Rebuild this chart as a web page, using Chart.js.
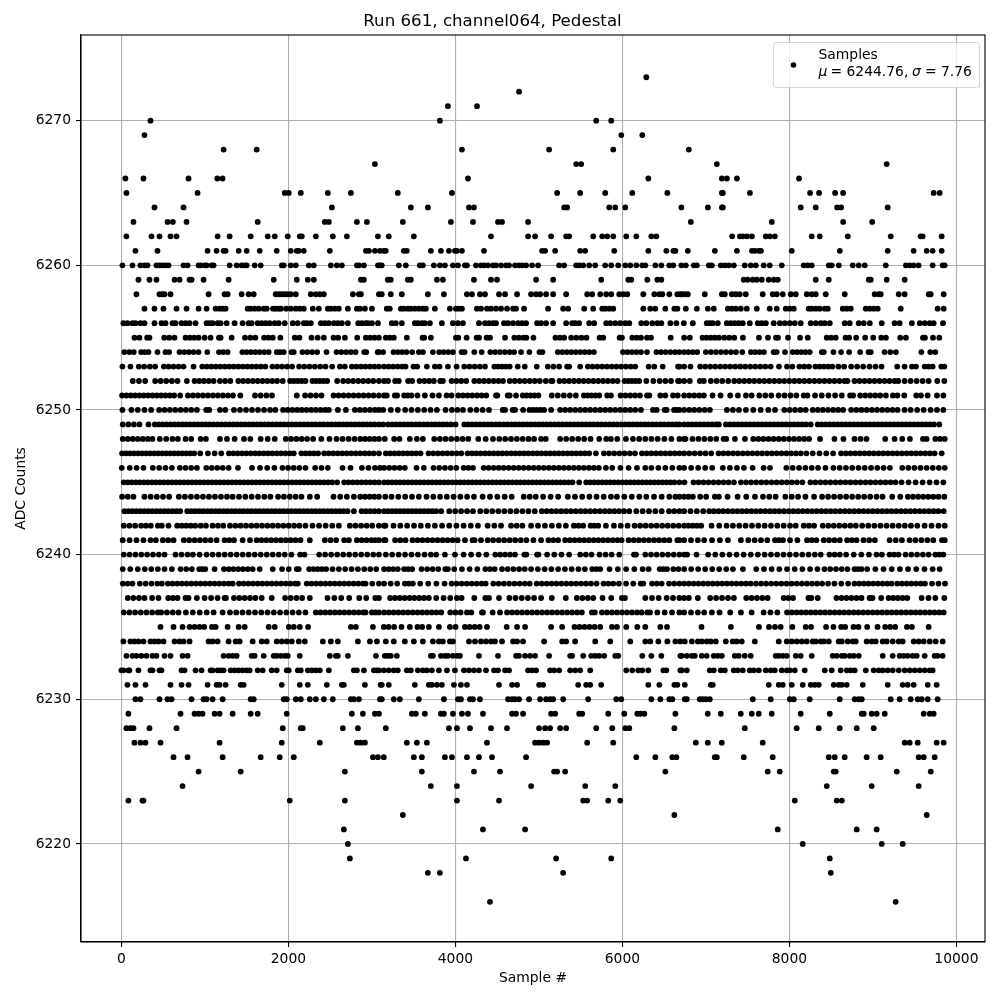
<!DOCTYPE html>
<html>
<head>
<meta charset="utf-8">
<style>
  html, body { margin: 0; padding: 0; background: #fff; }
  #wrap { position: absolute; left: 0; top: 0; width: 1000px; height: 1000px; }
</style>
<script src="https://cdn.jsdelivr.net/npm/chart.js@4"></script>
</head>
<body>
<div id="wrap"><canvas id="chart" width="1000" height="1000"></canvas></div>
<script>
// sample numbers per ADC level
const adc6273 = [6286];
const adc6272 = [4762];
const adc6271 = [3910,4258];
const adc6270 = [348,3814,5686,5866];
const adc6269 = [276,5986,6238];
const adc6268 = [1224,1620,4078,5122,5890,6795];
const adc6267 = [3036,5446,5506,7131,9165];
const adc6266 = [48,264,804,1148,1212,4150,6310,7191,7251,7371,8115];
const adc6265 = [60,912,1956,2004,2148,2472,2748,3310,3958,5218,5494,5794,6118,6538,7191,7203,7527,8247,8355,8547,8643,9727,9799];
const adc6264 = [396,744,2520,3466,3670,4162,4222,5302,5338,5842,5914,6034,6706,7023,7191,7203,8135,8315,8571,8619,9177];
const adc6263 = [144,552,616,780,1632,2436,2484,2820,2940,3370,3946,4210,4510,4558,4870,6819,7789,8643,8991];
const adc6262 = [60,360,456,588,660,1152,1296,1548,1752,1836,1992,2136,2160,2328,2532,2700,3072,3202,3502,4426,4870,4954,5146,5326,5362,5650,5758,5818,5890,6046,6166,6346,6406,7315,7407,7441,7491,7551,7717,7765,7825,8267,8363,8699,9213,9571,9595,9823];
const adc6261 = [168,432,1032,1140,1224,1248,1404,1500,1656,1860,2028,2100,2124,2184,2496,2928,2964,3036,3096,3142,3166,3382,3418,3706,3826,3922,3994,4018,4078,4342,5038,5074,5194,5494,5554,5902,6310,6526,6610,6634,6783,7107,7371,7551,7587,7635,7659,8028,8603,9177,9487,9643,9715,9823];
const adc6260 = [12,132,228,276,312,420,456,492,528,564,744,792,924,948,996,1020,1080,1104,1296,1380,1440,1476,1500,1596,1668,1920,1944,2028,2088,2244,2304,2508,2580,2640,2820,2844,2904,3072,3096,3118,3322,3406,3574,3610,3742,3814,3874,3970,4030,4114,4138,4246,4306,4342,4390,4450,4486,4546,4606,4642,4714,4762,4798,4846,4918,4990,5242,5302,5446,5482,5530,5602,5674,5794,5866,5950,6034,6094,6166,6238,6274,6394,6466,6562,6610,6706,6759,6855,6891,7035,7071,7179,7226,7274,7334,7465,7537,7597,7692,7764,7908,8171,8219,8267,8471,8507,8591,8758,8830,8902,9153,9394,9440,9487,9547,9715,9835,9859];
const adc6259 = [204,336,420,636,696,816,840,984,1284,1824,2100,2232,2304,2868,2904,3190,3226,3430,3466,3778,3850,4222,4426,4498,4966,5170,5746,6070,6106,6298,6418,6466,7453,7500,7561,7609,7669,7752,7812,7860,8315,8471,8950,8974,9165,9380];
const adc6258 = [180,456,492,516,588,1044,1236,1272,1440,1524,1584,1848,1884,1920,1956,1992,2028,2088,2268,2328,2376,2424,2772,2844,2868,3084,3118,3226,3358,3670,3862,4138,4198,4294,4354,4522,4594,4738,4906,4966,5014,5086,5170,5326,5578,5638,5734,5806,5866,5962,6010,6058,6250,6382,6442,6478,6562,6658,6694,6711,6747,6783,6986,7191,7226,7310,7357,7405,7477,7680,7800,7848,7920,8016,8076,8208,8267,8315,8435,8662,9021,9069,9093,9309,9380,9668,9692,9847];
const adc6257 = [276,396,504,660,780,924,1020,1128,1176,1212,1248,1512,1548,1596,1644,1704,1740,1816,1848,1884,1908,1972,2028,2088,2136,2184,2292,2364,2472,2508,2556,2604,2712,2820,2856,2916,3000,3178,3214,3346,3382,3430,3466,3514,3562,3610,3646,3754,3934,4006,4042,4078,4258,4306,4378,4426,4486,4546,4618,4690,4726,4822,5110,5290,5350,5542,5650,5758,5794,5842,5890,6250,6334,6394,6514,6622,6658,6759,6891,7023,7094,7262,7310,7357,7417,7489,7609,7764,7848,7956,8004,8052,8231,8267,8315,8363,8423,8459,8639,8687,8735,8914,8962,9010,9057,9333,9775,9847];
const adc6256 = [24,72,132,168,228,276,396,480,528,612,648,720,768,816,888,1020,1056,1092,1152,1188,1260,1356,1452,1524,1560,1632,1680,1728,1776,1836,1884,1956,2052,2112,2184,2220,2268,2388,2436,2484,2544,2592,2640,2712,2836,2880,2928,2952,3000,3072,3238,3286,3358,3514,3550,3598,3634,3694,3838,3970,4030,4090,4282,4354,4402,4450,4486,4582,4630,4690,4750,4798,4846,4978,5026,5086,5170,5326,5398,5434,5482,5602,5662,5806,5854,5914,5974,6034,6082,6226,6286,6358,6418,6466,6574,6646,6735,6843,7010,7046,7082,7142,7250,7298,7345,7393,7441,7525,7621,7669,7717,7812,7884,7944,8004,8064,8135,8255,8315,8375,8423,8483,8662,8722,8830,8890,8962,9105,9260,9320,9466,9560,9620,9680,9727,9839];
const adc6255 = [156,216,308,336,512,572,636,768,820,872,924,996,1068,1168,1188,1320,1480,1544,1604,1708,1760,1812,1904,2076,2132,2276,2350,2424,2540,2596,2676,2824,2928,2980,3032,3084,3166,3214,3262,3418,3606,3626,3706,4006,4034,4134,4254,4282,4374,4414,4594,4706,4760,4814,4850,4934,5198,5250,5302,5386,5448,5510,5570,5726,5770,5966,5994,6118,6170,6222,6294,6342,6578,6739,6807,6959,7008,7057,7106,7155,7219,7279,7339,7443,7635,7743,7839,7863,7983,8127,8219,8447,8500,8555,8671,8715,8799,8907,9003,9099,9155,9327,9395,9599,9623,9719,9795];
const adc6254 = [36,96,148,236,280,324,432,528,572,696,752,808,864,924,1028,1168,1220,1272,1448,1500,1552,1604,1656,1710,1764,1860,1900,1944,2036,2064,2168,2226,2284,2344,2456,2576,2634,2692,2748,2804,2908,2932,3068,3084,3134,3258,3310,3362,3414,3482,3562,3610,3730,3806,3860,3914,3970,4074,4110,4226,4314,4418,4476,4534,4592,4650,4702,4786,4886,5006,5042,5226,5280,5334,5388,5442,5496,5550,5604,5658,6006,6060,6114,6168,6222,6294,6406,6462,6518,6574,6630,6682,6739,6790,6842,6895,6999,7060,7120,7180,7240,7300,7360,7435,7539,7590,7642,7695,7811,7847,7947,8039,8090,8141,8192,8243,8387,8411,8527,8619,8715,8847,8947,8975,9139,9207,9275,9579,9687,9747];
const adc6253 = [12,108,208,272,340,404,508,566,624,684,744,864,968,1022,1076,1130,1184,1238,1292,1346,1400,1454,1508,1562,1616,1670,1724,1808,1866,1924,1984,2044,2128,2190,2252,2316,2380,2444,2524,2616,2676,2760,2814,2868,2922,2976,3030,3084,3146,3200,3254,3308,3362,3402,3498,3542,3658,3754,3810,3910,4014,4106,4168,4230,4292,4354,4466,4512,4558,4604,4650,4746,4830,4974,5106,5174,5242,5338,5362,5494,5586,5643,5700,5757,5814,5871,5928,5985,6042,6099,6154,6314,6382,6482,6666,6682,6739,6815,6931,6991,7051,7111,7171,7231,7291,7351,7411,7471,7531,7591,7651,7711,7775,7875,7971,8035,8119,8177,8235,8311,8362,8413,8464,8515,8587,8655,8739,8811,8883,8959,9031,9103,9291,9379,9467,9515,9619,9667,9715,9819,9855];
const adc6252 = [136,210,284,404,470,536,604,672,784,876,932,988,1046,1104,1180,1242,1304,1400,1458,1516,1574,1632,1690,1748,1806,1864,1932,2020,2066,2112,2158,2204,2288,2332,2376,2420,2464,2584,2656,2716,2776,2836,2896,2956,3016,3084,3146,3194,3278,3322,3434,3482,3570,3628,3686,3742,3818,3850,3954,4012,4070,4130,4226,4284,4342,4400,4458,4516,4570,4650,4710,4770,4830,4890,4950,5010,5082,5146,5162,5246,5304,5362,5420,5478,5536,5594,5652,5710,5768,5826,5884,5942,6026,6070,6114,6158,6202,6286,6370,6446,6514,6582,6666,6682,6739,6807,6927,6975,7059,7127,7195,7267,7339,7399,7459,7519,7579,7639,7699,7759,7819,7879,7939,7999,8059,8119,8179,8239,8299,8359,8419,8479,8539,8599,8659,8695,8779,8839,8899,8959,9019,9079,9139,9199,9259,9303,9379,9451,9523,9595,9667,9771,9855];
const adc6251 = [8,60,112,164,216,268,320,372,424,476,528,580,632,704,796,856,916,976,1036,1096,1156,1216,1276,1336,1424,1600,1668,1736,1804,2100,2200,2265,2330,2396,2540,2600,2660,2720,2780,2840,2900,2960,3020,3084,3146,3178,3274,3302,3386,3430,3474,3546,3634,3726,3802,3894,3954,4034,4090,4146,4202,4258,4314,4370,4486,4502,4626,4650,4726,4806,4853,4900,4947,4994,5154,5226,5298,5370,5442,5538,5584,5630,5676,5722,5818,5862,5978,6036,6094,6152,6210,6294,6322,6454,6514,6606,6662,6739,6800,6860,6920,6975,7079,7175,7291,7383,7479,7547,7639,7711,7783,7871,7942,8013,8083,8171,8215,8307,8387,8467,8547,8627,8727,8763,8847,8907,8967,9027,9087,9155,9239,9293,9375,9519,9575,9655,9767,9843];
const adc6250 = [12,120,196,276,356,452,516,580,644,708,772,836,904,1016,1052,1180,1244,1348,1420,1492,1564,1636,1708,1780,1844,1936,1992,2048,2104,2160,2216,2272,2328,2384,2440,2484,2592,2688,2796,2856,2916,2976,3036,3084,3134,3226,3310,3398,3474,3550,3626,3702,3778,3882,3958,4024,4090,4178,4252,4326,4402,4566,4594,4686,4714,4810,4886,4930,4974,5018,5062,5146,5254,5314,5374,5434,5494,5554,5614,5674,5734,5794,5854,5914,5974,6034,6094,6154,6222,6366,6410,6506,6530,6618,6650,6682,6739,6800,6860,6920,6985,7047,7251,7323,7395,7479,7567,7655,7747,7827,7939,8003,8067,8131,8195,8279,8340,8401,8462,8523,8584,8643,8739,8801,8863,8925,8987,9049,9111,9173,9235,9295,9379,9451,9529,9607,9691,9767,9843];
const adc6249 = [16,84,150,216,324,400,448,494,540,588,634,682,728,776,822,870,916,964,1010,1058,1104,1152,1198,1246,1292,1340,1386,1434,1480,1528,1574,1622,1668,1716,1762,1810,1856,1904,1950,1998,2044,2092,2138,2186,2232,2280,2326,2374,2420,2468,2514,2562,2608,2656,2702,2750,2796,2844,2890,2938,2984,3032,3084,3134,3194,3242,3288,3336,3382,3430,3476,3524,3570,3618,3664,3712,3758,3806,3852,3900,3946,4002,4106,4152,4200,4246,4294,4340,4388,4434,4482,4528,4576,4622,4670,4716,4764,4810,4858,4904,4952,4998,5046,5092,5140,5186,5234,5280,5328,5374,5422,5468,5516,5562,5610,5656,5704,5750,5798,5844,5892,5938,5986,6032,6080,6126,6174,6220,6268,6314,6362,6408,6456,6502,6550,6596,6644,6682,6739,6786,6834,6882,6930,6978,7026,7074,7122,7155,7239,7287,7335,7383,7431,7479,7527,7575,7623,7671,7719,7767,7815,7863,7911,7959,8007,8055,8103,8151,8199,8255,8339,8387,8435,8483,8531,8579,8627,8675,8723,8771,8819,8867,8915,8963,9011,9059,9107,9155,9203,9251,9299,9347,9395,9443,9491,9539,9587,9635,9683,9731,9795];
const adc6248 = [16,76,136,196,256,316,372,460,536,612,676,768,836,948,1012,1180,1264,1356,1468,1544,1668,1752,1836,1968,2032,2096,2160,2224,2296,2394,2492,2576,2648,2720,2792,2860,2916,2972,3028,3084,3154,3266,3330,3454,3538,3610,3746,3814,3882,3950,4018,4086,4154,4274,4362,4450,4526,4596,4666,4736,4806,4876,4942,5026,5082,5254,5326,5398,5470,5542,5618,5722,5806,5862,5938,6042,6126,6200,6274,6348,6422,6502,6586,6682,6739,6755,6839,6910,6981,7052,7123,7211,7243,7347,7467,7567,7628,7689,7750,7811,7872,7933,7994,8055,8116,8177,8235,8367,8539,8647,8779,8851,8923,9147,9259,9351,9443,9599,9643,9747,9803,9860];
const adc6247 = [8,56,104,152,200,248,296,344,392,440,488,536,584,632,680,728,776,824,872,944,1036,1116,1196,1288,1340,1392,1444,1496,1548,1600,1652,1704,1756,1808,1860,1912,1964,2016,2064,2156,2206,2256,2306,2356,2428,2482,2536,2590,2644,2698,2752,2806,2860,2914,2968,3022,3084,3166,3218,3270,3322,3374,3426,3478,3530,3582,3678,3734,3790,3846,3902,3958,4014,4070,4146,4198,4250,4302,4354,4406,4458,4510,4562,4614,4666,4718,4770,4822,4874,4926,4978,5030,5082,5134,5186,5238,5290,5342,5394,5446,5498,5550,5602,5682,5778,5840,5902,5964,6026,6088,6150,6234,6290,6346,6402,6458,6514,6570,6626,6682,6739,6800,6865,6930,6995,7063,7151,7209,7267,7325,7383,7441,7499,7557,7615,7673,7731,7789,7847,7905,7963,8021,8079,8137,8203,8279,8360,8441,8523,8619,8675,8731,8787,8843,8899,8955,9011,9067,9123,9179,9235,9291,9347,9403,9459,9515,9571,9627,9683,9739,9823];
const adc6246 = [4,100,182,264,376,452,528,604,700,768,836,904,1016,1082,1148,1214,1284,1396,1564,1660,1746,1832,1928,1996,2064,2132,2204,2320,2396,2472,2648,2744,2880,2958,3036,3096,3146,3208,3270,3332,3394,3534,3622,3738,3806,3874,3942,4010,4098,4154,4210,4338,4398,4458,4518,4578,4638,4698,4758,4818,4878,4938,4998,5058,5118,5178,5238,5298,5358,5418,5478,5538,5598,5658,5718,5802,5878,5976,6074,6174,6274,6346,6430,6514,6598,6682,6739,6823,6907,6991,7075,7203,7287,7371,7455,7559,7691,7767,7963,8039,8115,8191,8267,8343,8431,8527,8602,8677,8752,8827,8902,8977,9052,9127,9203,9351,9424,9497,9570,9643,9716,9789,9860];
const adc6245 = [28,76,124,172,220,268,316,364,412,460,508,556,604,652,700,748,796,844,892,940,988,1036,1084,1132,1180,1228,1276,1324,1372,1420,1468,1516,1564,1612,1660,1708,1756,1804,1852,1900,1948,1996,2044,2092,2140,2188,2236,2284,2332,2380,2428,2476,2524,2584,2668,2720,2772,2824,2876,2928,2980,3032,3084,3146,3194,3242,3290,3338,3386,3434,3482,3530,3578,3626,3674,3722,3770,3818,3866,3914,3962,4010,4058,4106,4154,4202,4250,4298,4346,4394,4442,4490,4538,4586,4634,4682,4730,4778,4826,4874,4922,4970,5018,5066,5114,5162,5210,5258,5306,5354,5402,5482,5566,5614,5662,5710,5758,5806,5854,5902,5950,5998,6046,6094,6142,6190,6238,6286,6334,6382,6430,6478,6526,6574,6622,6682,6743,6851,6911,6971,7031,7091,7151,7211,7271,7335,7419,7480,7541,7602,7663,7724,7785,7846,7907,7968,8029,8090,8155,8251,8311,8371,8431,8491,8551,8611,8671,8731,8791,8851,8911,8971,9031,9091,9151,9211,9271,9343,9427,9511,9595,9679,9761,9843];
const adc6244 = [8,76,144,276,350,424,498,572,688,760,832,904,976,1048,1120,1192,1264,1332,1408,1484,1560,1636,1712,1784,1876,1946,2016,2086,2156,2256,2344,2540,2620,2700,2784,2860,2916,2972,3028,3084,3160,3234,3316,3398,3480,3562,3654,3735,3816,3897,3978,4059,4140,4222,4326,4414,4502,4590,4674,4818,4890,4962,5050,5140,5230,5346,5432,5518,5604,5690,5776,5862,5934,6023,6112,6202,6286,6378,6470,6562,6634,6682,6739,6791,6843,6931,7003,7107,7155,7259,7379,7483,7587,7683,7759,7835,7951,8027,8103,8191,8295,8391,8463,8535,8607,8679,8751,8823,8895,8967,9043,9115,9231,9327,9419,9480,9541,9602,9663,9724,9785,9855];
const adc6243 = [36,84,132,180,228,276,324,372,420,468,516,564,612,660,704,788,836,884,932,980,1028,1076,1124,1172,1220,1268,1316,1364,1412,1460,1508,1556,1604,1652,1700,1748,1796,1844,1892,1940,1988,2036,2084,2132,2180,2228,2276,2324,2372,2420,2468,2516,2564,2612,2660,2708,2784,2876,2928,2980,3032,3084,3146,3194,3242,3290,3338,3386,3434,3482,3530,3578,3626,3674,3722,3770,3830,3926,3997,4068,4139,4210,4298,4370,4442,4514,4586,4658,4730,4802,4874,4950,5034,5092,5150,5208,5266,5324,5382,5440,5498,5556,5614,5672,5730,5788,5846,5904,5962,6020,6082,6166,6242,6318,6394,6470,6558,6620,6682,6739,6815,6891,6967,7039,7095,7151,7207,7263,7319,7375,7431,7487,7543,7599,7655,7711,7767,7823,7879,7935,7991,8047,8103,8159,8215,8271,8327,8383,8439,8495,8551,8607,8663,8719,8775,8831,8887,8943,8999,9055,9111,9167,9223,9279,9335,9391,9447,9503,9559,9615,9671,9727,9783,9847];
const adc6242 = [28,96,164,236,294,352,436,484,564,668,722,776,830,884,950,1012,1092,1156,1220,1300,1364,1428,1492,1556,1620,1684,1748,1812,1876,1940,2004,2068,2132,2204,2288,2367,2446,2525,2604,2736,2803,2870,2937,3004,3084,3146,3162,3258,3340,3422,3504,3586,3670,3754,3840,3926,4012,4098,4184,4270,4386,4466,4546,4666,4734,4802,4906,4989,5072,5155,5238,5322,5418,5474,5530,5618,5664,5710,5802,5898,5980,6062,6146,6212,6278,6344,6410,6476,6542,6608,6674,6739,6790,6841,6892,6943,7067,7159,7247,7323,7399,7475,7551,7627,7703,7779,7855,7931,8007,8075,8171,8233,8295,8399,8465,8531,8597,8663,8729,8795,8871,8944,9017,9090,9163,9236,9309,9382,9455,9531,9619,9702,9785,9860];
const adc6241 = [16,98,180,264,348,412,496,560,624,748,812,876,940,1004,1068,1140,1236,1292,1348,1452,1540,1620,1678,1736,1794,1852,1910,1968,2026,2084,2144,2256,2436,2504,2572,2668,2724,2820,2878,2936,2994,3040,3084,3146,3162,3278,3340,3402,3486,3546,3606,3666,3726,3786,3846,3906,3966,4026,4114,4206,4230,4306,4386,4452,4518,4584,4650,4716,4782,4850,4934,5026,5114,5172,5230,5314,5371,5428,5485,5542,5599,5656,5713,5770,5827,5884,5941,5990,6074,6135,6196,6257,6318,6379,6440,6501,6562,6658,6682,6739,6821,6903,6979,7073,7167,7263,7419,7507,7583,7659,7735,7827,7875,7923,8007,8095,8211,8267,8323,8411,8475,8539,8603,8691,8747,8803,8887,8955,9023,9199,9273,9347,9439,9510,9581,9652,9723,9827,9860];
const adc6240 = [28,98,168,238,308,378,448,516,648,720,792,856,936,1020,1092,1164,1236,1308,1380,1452,1524,1596,1668,1740,1812,1884,1956,2036,2140,2192,2368,2440,2512,2584,2656,2728,2800,2872,2944,3016,3084,3166,3243,3320,3397,3474,3551,3630,3706,3770,3874,3994,4098,4188,4278,4370,4478,4537,4596,4655,4714,4826,4850,4978,4994,5098,5184,5270,5362,5494,5562,5630,5726,5798,5870,5962,6138,6162,6274,6342,6410,6478,6546,6614,6682,6739,6775,6887,7027,7112,7197,7282,7367,7452,7537,7622,7703,7779,7854,7929,8004,8079,8154,8229,8304,8375,8479,8541,8603,8679,8770,8861,8952,9043,9107,9199,9253,9307,9391,9460,9529,9598,9667,9747,9795,9843];
const adc6239 = [16,106,196,280,358,436,516,604,708,776,844,932,968,1004,1116,1228,1285,1342,1399,1456,1514,1572,1656,1812,1924,2004,2100,2124,2248,2299,2350,2401,2452,2528,2604,2680,2756,2832,2908,2980,3052,3146,3200,3255,3310,3386,3434,3482,3594,3661,3727,3794,3878,3910,3986,4078,4170,4262,4358,4414,4470,4558,4626,4694,4762,4830,4906,4987,5068,5149,5230,5311,5392,5473,5550,5638,5686,5734,5846,5945,6044,6143,6242,6314,6446,6490,6534,6610,6670,6739,6823,6907,6991,7075,7159,7243,7323,7443,7603,7695,7787,7879,7971,8063,8155,8247,8335,8419,8488,8557,8626,8695,8779,8821,8863,8931,9029,9127,9225,9323,9421,9519,9617,9715,9799];
const adc6238 = [16,74,132,220,290,360,430,484,556,612,668,724,780,836,892,948,1004,1060,1116,1172,1228,1284,1332,1408,1464,1520,1576,1632,1688,1744,1800,1856,1912,1968,2024,2080,2112,2220,2276,2332,2388,2444,2500,2556,2612,2668,2724,2780,2836,2892,2924,3004,3084,3146,3224,3302,3394,3442,3490,3578,3674,3772,3870,3954,4014,4074,4134,4194,4254,4314,4362,4454,4517,4580,4643,4706,4769,4832,4890,4974,5033,5092,5151,5210,5269,5328,5387,5446,5505,5564,5623,5690,5774,5832,5890,5958,6044,6130,6218,6250,6354,6412,6470,6558,6620,6682,6739,6796,6853,6910,6967,7024,7081,7138,7195,7252,7309,7366,7423,7480,7535,7599,7660,7721,7782,7843,7904,7965,8026,8087,8148,8209,8270,8331,8392,8463,8539,8621,8703,8779,8835,8891,8947,9003,9059,9115,9171,9223,9291,9347,9403,9459,9515,9571,9623,9707,9785,9863];
const adc6237 = [76,142,210,276,368,444,560,616,672,768,804,904,996,1074,1152,1236,1252,1348,1412,1476,1540,1604,1680,1800,1960,2028,2096,2164,2256,2468,2550,2632,2728,2848,2932,3040,3084,3218,3276,3334,3392,3450,3508,3566,3624,3682,3770,3858,3938,4018,4074,4226,4358,4402,4522,4646,4720,4794,4868,4942,5026,5154,5322,5454,5520,5586,5650,5762,5866,5994,6030,6274,6354,6434,6530,6606,6682,6739,6795,6903,7051,7122,7193,7264,7335,7483,7547,7611,7675,7739,7931,7987,8043,8227,8263,8339,8563,8623,8683,8743,8803,8863,8959,8995,9099,9187,9243,9299,9355,9411,9583,9665,9747,9855];
const adc6236 = [28,96,164,232,300,368,436,476,545,615,684,772,855,938,1021,1104,1212,1300,1375,1450,1525,1600,1675,1750,1825,1900,1975,2050,2125,2204,2328,2385,2442,2499,2556,2613,2670,2727,2784,2841,2898,2924,3000,3042,3084,3146,3203,3260,3317,3374,3431,3488,3545,3602,3659,3716,3773,3830,3938,4000,4062,4138,4190,4318,4330,4446,4534,4618,4678,4738,4798,4858,4918,4978,5038,5098,5158,5218,5278,5338,5398,5458,5514,5634,5670,5754,5814,5874,5934,5994,6054,6114,6174,6230,6298,6330,6418,6506,6594,6682,6739,6821,6903,6979,7071,7163,7291,7419,7547,7691,7773,7855,7971,8028,8085,8142,8199,8256,8313,8370,8427,8484,8541,8598,8655,8712,8769,8826,8883,8940,8997,9054,9111,9168,9225,9282,9339,9396,9453,9510,9567,9624,9681,9738,9795,9847];
const adc6235 = [468,624,732,816,876,936,992,1084,1128,1272,1404,1476,1764,1836,2004,2064,2136,2236,2748,2808,3012,3142,3200,3266,3354,3454,3546,3602,3682,3802,3934,4002,4114,4170,4230,4290,4378,4614,4738,4834,5146,5278,5426,5486,5546,5606,5666,5734,5874,5934,6046,6178,6274,6454,6534,6947,7299,7635,7755,7827,7895,8035,8195,8259,8439,8527,8619,8667,8767,8827,8931,9055,9147,9207,9267,9407,9467,9667];
const adc6234 = [24,108,156,204,264,348,396,444,504,636,696,744,816,1044,1092,1152,1284,1368,1416,1572,1680,1740,1860,1920,1980,2040,2124,2196,2412,2508,2592,2832,2976,3060,3166,3262,3394,3502,3610,3730,3802,3850,3934,3970,4162,4234,4306,4366,4426,4474,4558,4690,4738,4810,5062,5278,5326,5434,5674,5854,6094,6274,6334,6430,6538,6634,6694,6747,6831,6903,6950,7010,7058,7118,7238,7321,7369,7429,7585,7872,7968,8028,8088,8148,8207,8279,8315,8375,8411,8471,8590,8627,8698,8758,8794,8925,8985,9033,9117,9165,9237,9309,9356,9488,9548,9608,9680,9751,9835];
const adc6233 = [60,132,180,240,300,372,420,516,588,732,792,1224,1284,1332,1380,1560,1596,1704,1824,1860,1908,1956,1992,2136,2496,2568,2592,2712,3048,3154,3190,3226,3298,3706,3730,3826,3874,3910,3970,4018,4054,4282,4510,4726,4762,4834,4894,4954,5122,5374,5398,5530,5626,5674,5722,5782,5914,5950,6238,6346,6466,6694,6711,6771,6831,6867,6950,7010,7094,7142,7190,7345,7393,7465,7537,7836,7872,7920,7968,8076,8135,8267,8518,8566,8627,8662,8722,8770,8830,9117,9237,9320,9368,9416,9476,9524,9620,9739,9775,9835];
const adc6232 = [0,24,84,96,204,348,372,456,480,720,756,888,960,1068,1092,1152,1188,1224,1308,1356,1404,1452,1500,1536,1632,1692,1800,1860,1980,2004,2112,2148,2232,2280,2328,2376,2484,2784,2820,2904,3024,3060,3084,3142,3202,3262,3310,3418,3466,3550,3610,3658,3718,3802,3898,3994,4102,4162,4222,4282,4366,4462,4510,4594,4642,4870,4918,4966,5134,5182,5242,5374,5434,5494,5614,6046,6118,6190,6238,6310,6490,6526,6694,6711,6771,7046,7094,7178,7226,7333,7381,7441,7525,7573,7633,7717,7776,7824,7908,7968,8004,8064,8183,8423,8506,8614,8686,8734,8782,8914,9009,9069,9117,9177,9237,9309,9380,9440,9500,9560,9620,9680,9715];
const adc6231 = [72,168,288,588,720,804,1032,1140,1176,1248,1428,1464,1920,2136,2232,2460,2640,2664,2916,3104,3118,3202,3514,3682,3718,3778,3838,3982,4066,4138,4522,4678,4738,5002,5050,5470,5566,5614,5746,6310,6442,6622,6658,6747,7058,7082,7752,7872,7920,8028,8159,8255,8303,8351,8530,8590,8627,8686,8878,9177,9356,9416,9488,9656,9763];
const adc6230 = [168,228,456,552,600,840,984,1020,1092,1212,1548,1584,1944,1980,2088,2148,2256,2328,2424,2532,2748,2784,2844,3096,3118,3262,3334,3562,3862,4030,4066,4174,4210,4294,4630,4678,4714,4762,4882,5014,5086,5134,5170,5290,5590,5926,5986,6346,6454,6562,6598,6747,6771,6926,6962,6998,7046,7561,7776,8004,8052,8243,8602,8782,8830,8866,9213,9320,9452,9536,9584,9656,9775];
const adc6229 = [84,708,876,924,972,1116,1176,1332,1548,1632,1980,2760,2892,3036,3084,3478,3526,3634,3826,3862,3970,4078,4150,4330,4678,4726,4810,5146,5194,5482,5518,5830,6022,6178,6214,6262,6634,7022,7178,7417,7549,7633,7788,8135,8483,8866,8890,8985,9045,9141,9608,9680,9727];
const adc6228 = [60,108,144,336,660,1932,2148,2172,2652,2832,3166,3922,4018,4174,4426,4618,5002,5074,5134,5254,5326,5686,5878,6034,6082,6622,7465,8087,8351,8602,8806,9009];
const adc6227 = [156,228,288,468,1176,1920,2376,2820,2868,2916,3418,3538,3658,4378,4954,5002,5050,5098,5578,5890,6879,7022,7190,7680,9380,9440,9536,9763,9847];
const adc6226 = [624,792,1212,1668,1896,2064,3012,3072,3142,3502,3598,3874,3958,4138,4282,4438,4846,6166,6394,6598,6646,7106,7130,7453,7800,8471,8542,8662,8925,9093,9548,9608,9739];
const adc6225 = [924,1428,2676,3598,4222,4534,5182,5218,5314,6514,7740,7884,8530,8554,9285,9692];
const adc6224 = [732,3706,4018,4906,5554,5914,8447,8985,9548];
const adc6223 = [84,252,264,2016,2676,4018,4522,5530,5578,5830,5974,8064,8566,8627];
const adc6222 = [3370,6622,9644];
const adc6221 = [2664,4330,4834,7860,8806,9045];
const adc6220 = [2712,8159,9105,9356];
const adc6219 = [2736,4126,5206,5866,8483];
const adc6218 = [3670,3814,5290,8495];
const adc6216 = [4414,9272];

const levels = [
  [6273, adc6273], [6272, adc6272], [6271, adc6271], [6270, adc6270], [6269, adc6269], [6268, adc6268],
  [6267, adc6267], [6266, adc6266], [6265, adc6265], [6264, adc6264], [6263, adc6263], [6262, adc6262],
  [6261, adc6261], [6260, adc6260], [6259, adc6259], [6258, adc6258], [6257, adc6257], [6256, adc6256],
  [6255, adc6255], [6254, adc6254], [6253, adc6253], [6252, adc6252], [6251, adc6251], [6250, adc6250],
  [6249, adc6249], [6248, adc6248], [6247, adc6247], [6246, adc6246], [6245, adc6245], [6244, adc6244],
  [6243, adc6243], [6242, adc6242], [6241, adc6241], [6240, adc6240], [6239, adc6239], [6238, adc6238],
  [6237, adc6237], [6236, adc6236], [6235, adc6235], [6234, adc6234], [6233, adc6233], [6232, adc6232],
  [6231, adc6231], [6230, adc6230], [6229, adc6229], [6228, adc6228], [6227, adc6227], [6226, adc6226],
  [6225, adc6225], [6224, adc6224], [6223, adc6223], [6222, adc6222], [6221, adc6221], [6220, adc6220],
  [6219, adc6219], [6218, adc6218], [6216, adc6216]
];

const xTicks = [0, 2000, 4000, 6000, 8000, 10000];
const yTicks = [6220, 6230, 6240, 6250, 6260, 6270];

const font = '"DejaVu Sans"';
const points = [];
levels.forEach(([adc, samples]) => {
  samples.forEach(s => points.push({ x: s, y: adc }));
});

// top and right spines
const frame = {
  id: 'frame',
  afterDatasetsDraw(c) {
    const a = c.chartArea, ctx = c.ctx;
    ctx.save();
    ctx.strokeStyle = '#000';
    ctx.lineWidth = 1.1;
    ctx.strokeRect(a.left, a.top, a.width, a.height);
    ctx.restore();
  }
};

// legend box, the mu and sigma need italics so it is drawn by hand
const sampleLegend = {
  id: 'sampleLegend',
  afterDraw(c) {
    const ctx = c.ctx;
    ctx.save();
    ctx.beginPath();
    ctx.roundRect(773.5, 42.5, 206, 45, 3);
    ctx.fillStyle = 'rgba(255,255,255,0.8)';
    ctx.fill();
    ctx.strokeStyle = 'rgba(204,204,204,0.8)';
    ctx.lineWidth = 1;
    ctx.stroke();
    ctx.fillStyle = '#000';
    ctx.beginPath();
    ctx.arc(793.5, 65, 2.8, 0, Math.PI * 2);
    ctx.fill();
    ctx.textBaseline = 'alphabetic';
    ctx.font = '13.89px ' + font;
    ctx.fillText('Samples', 818.5, 59);
    [['\u03bc', true, 818.5], ['= 6244.76,', false, 830.5], ['\u03c3', true, 912], ['= 7.76', false, 925]].forEach(([t, it, x]) => {
      ctx.font = (it ? 'italic ' : '') + '13.89px ' + font;
      ctx.fillText(t, x, 76);
    });
    ctx.restore();
  }
};

new Chart(document.querySelector('#chart').getContext('2d'), {
  type: 'scatter',
  data: {
    datasets: [{
      label: 'Samples',
      data: points,
      backgroundColor: '#000',
      borderColor: '#000',
      pointRadius: 2.9,
      pointBorderWidth: 0
    }]
  },
  options: {
    responsive: false,
    animation: false,
    layout: { padding: { left: 0, right: 15, top: 0, bottom: 0 } },
    plugins: {
      legend: { display: false },
      tooltip: { enabled: false },
      title: {
        display: true,
        text: 'Run 661, channel064, Pedestal',
        color: '#000',
        font: { family: font, size: 16.67, weight: 'normal', lineHeight: 1.2 },
        padding: { top: 12, bottom: 3 }
      }
    },
    scales: {
      x: {
        type: 'linear',
        min: -484,
        max: 10342,
        afterBuildTicks: s => { s.ticks = xTicks.map(value => ({ value })); },
        afterFit: s => { s.height = 58; },
        ticks: { color: '#000', maxRotation: 0, font: { family: font, size: 13.89 }, padding: 4, callback: v => String(v) },
        grid: { color: '#b0b0b0', lineWidth: 1.1, tickColor: '#000', tickLength: 5 },
        border: { color: '#000', width: 1.1 },
        title: { display: true, text: 'Sample #', color: '#000', font: { family: font, size: 13.89 }, padding: { top: 4, bottom: 13 } }
      },
      y: {
        type: 'linear',
        min: 6213.22,
        max: 6275.92,
        afterBuildTicks: s => { s.ticks = yTicks.map(value => ({ value })); },
        afterFit: s => { s.width = 81; },
        ticks: { color: '#000', font: { family: font, size: 13.89 }, padding: 5, callback: v => String(v) },
        grid: { color: '#b0b0b0', lineWidth: 1.1, tickColor: '#000', tickLength: 5 },
        border: { color: '#000', width: 1.1 },
        title: { display: true, text: 'ADC Counts', color: '#000', font: { family: font, size: 13.89 }, padding: { top: 13, bottom: 0 } }
      }
    }
  },
  plugins: [frame, sampleLegend]
});
</script>
</body>
</html>
